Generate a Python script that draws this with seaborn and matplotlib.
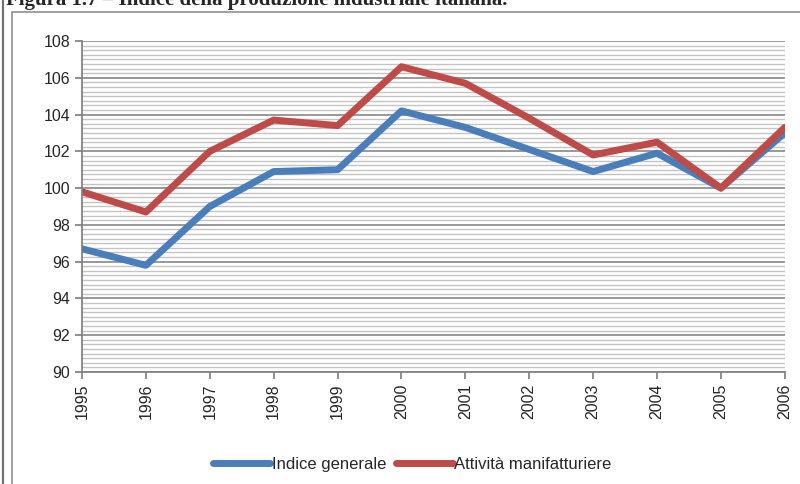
import matplotlib.pyplot as plt
import matplotlib.patches as mpatches
from matplotlib.ticker import MultipleLocator
import seaborn as sns
import pandas as pd

anni = [1995, 1996, 1997, 1998, 1999, 2000, 2001, 2002, 2003, 2004, 2005, 2006]
indice_generale = [96.7, 95.8, 99.0, 100.9, 101.0, 104.2, 103.3, 102.1, 100.9, 101.9, 100.0, 103.0]
attivita_manif = [99.8, 98.7, 102.0, 103.7, 103.4, 106.6, 105.7, 103.8, 101.8, 102.5, 100.0, 103.3]
serie = ["Indice generale", "Attività manifatturiere"]
colori = ["#4a7ebb", "#be4b48"]

df = pd.DataFrame({
    "anno": anni * 2,
    "valore": indice_generale + attivita_manif,
    "serie": [serie[0]] * len(anni) + [serie[1]] * len(anni),
})

sns.set_theme(style="white")
plt.rcParams["font.family"] = ["Liberation Sans", "DejaVu Sans"]

fig = plt.figure(figsize=(8, 4.84), dpi=100)
ax = fig.add_axes([0.1025, 0.2314, 0.8785, 0.6839])

sns.lineplot(data=df, x="anno", y="valore", hue="serie", palette=colori,
             linewidth=5, ax=ax, legend=True)

ax.set_xlim(1995, 2006)
ax.set_ylim(90, 108)
ax.set_xticks(anni)
ax.set_xticklabels([str(a) for a in anni], rotation=90, fontsize=11.5)
ax.yaxis.set_major_locator(MultipleLocator(2))
ax.yaxis.set_minor_locator(MultipleLocator(0.25))
ax.tick_params(axis="y", which="major", left=True, length=5, color="#808080", labelsize=11.5)
ax.tick_params(axis="x", which="major", bottom=True, length=5, color="#808080")
ax.tick_params(axis="y", which="minor", left=False)
ax.grid(axis="y", which="major", color="#888888", linewidth=1.2)
ax.grid(axis="y", which="minor", color="#c4c4c4", linewidth=1.0)
ax.set_axisbelow(True)
ax.set_xlabel("")
ax.set_ylabel("")
for s in ["top", "right"]:
    ax.spines[s].set_visible(False)
ax.spines["left"].set_color("#808080")
ax.spines["bottom"].set_color("#808080")

handles, labels = ax.get_legend_handles_labels()
ax.legend(handles, labels, loc="center", bbox_to_anchor=(0.47, -0.28), ncol=2,
          frameon=False, fontsize=12, handlelength=3.4, handletextpad=0.1,
          columnspacing=0.6)

# cornice della pagina e del grafico
fig.add_artist(mpatches.Rectangle((3 / 800, -0.1), 0.0, 1.2, fill=False,
                                  edgecolor="#707070", linewidth=1.5,
                                  transform=fig.transFigure))
fig.add_artist(mpatches.Rectangle((12 / 800, -0.1), 1.1, 1 - 12 / 484 + 0.1,
                                  fill=False, edgecolor="#909090", linewidth=1.2,
                                  transform=fig.transFigure))

fig.text(0.008, 0.99, "Figura 1.7 – Indice della produzione industriale italiana.",
         family=["Liberation Serif", "DejaVu Serif"], fontweight="bold",
         fontsize=15, va="baseline", ha="left")

fig.savefig("out.png", dpi=100)
